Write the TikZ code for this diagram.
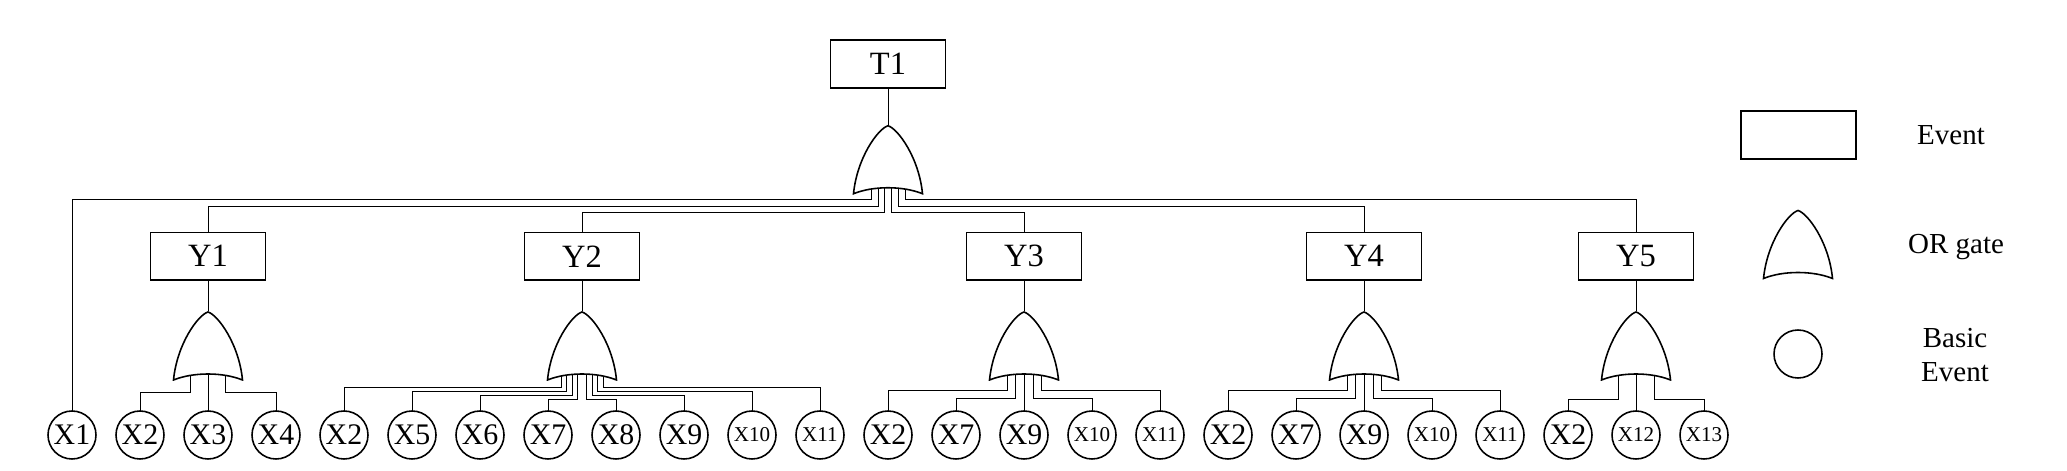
\documentclass[tikz,border=0pt]{standalone}
\usepackage{fontspec}
\setmainfont{Liberation Serif}
\usetikzlibrary{positioning,backgrounds,calc}

\begin{document}
\begin{tikzpicture}[line width=0.9pt, node distance = 0.4cm,
	block/.style = { rectangle, draw=black, fill=white,
	minimum width=2.3cm, minimum height=0.95cm, inner sep=0pt, outer sep=0pt,
	font=\fontsize{18.5}{22}\selectfont },
	basic/.style = { circle, draw=black, fill=white, minimum size=0.96cm,
	inner sep=0pt, outer sep=0pt, font=\fontsize{17}{20}\selectfont },
	twodigit/.style = { font=\fontsize{12}{14}\selectfont },
	gate/.style = { minimum width=1.42cm, minimum height=1.40cm, inner sep=0pt,
	outer sep=0pt,
	path picture={ \filldraw[fill=white, shift={(path picture bounding box.center)}]
	  (-0.69,-0.68) .. controls (-0.62,0.04) and (-0.2,0.62) .. (0,0.68)
	  .. controls (0.2,0.62) and (0.62,0.04) .. (0.69,-0.68)
	  .. controls (0.3,-0.52) and (-0.3,-0.52) .. cycle; } },
	legend/.style = { align=center, font=\fontsize{16.5}{19.5}\selectfont } ]

  \useasboundingbox (0,0) rectangle (41.34,-9.42);

  % basic events
  \node [name=x1, basic] at (1.44,-8.70) {X1};
  \node [name=y1x2, basic, right=of x1] {X2};
  \node [name=y1x3, basic, right=of y1x2] {X3};
  \node [name=y1x4, basic, right=of y1x3] {X4};
  \node [name=y2x2, basic, right=of y1x4] {X2};
  \node [name=y2x5, basic, right=of y2x2] {X5};
  \node [name=y2x6, basic, right=of y2x5] {X6};
  \node [name=y2x7, basic, right=of y2x6] {X7};
  \node [name=y2x8, basic, right=of y2x7] {X8};
  \node [name=y2x9, basic, right=of y2x8] {X9};
  \node [name=y2x10, basic, twodigit, right=of y2x9] {X10};
  \node [name=y2x11, basic, twodigit, right=of y2x10] {X11};
  \node [name=y3x2, basic, right=of y2x11] {X2};
  \node [name=y3x7, basic, right=of y3x2] {X7};
  \node [name=y3x9, basic, right=of y3x7] {X9};
  \node [name=y3x10, basic, twodigit, right=of y3x9] {X10};
  \node [name=y3x11, basic, twodigit, right=of y3x10] {X11};
  \node [name=y4x2, basic, right=of y3x11] {X2};
  \node [name=y4x7, basic, right=of y4x2] {X7};
  \node [name=y4x9, basic, right=of y4x7] {X9};
  \node [name=y4x10, basic, twodigit, right=of y4x9] {X10};
  \node [name=y4x11, basic, twodigit, right=of y4x10] {X11};
  \node [name=y5x2, basic, right=of y4x11] {X2};
  \node [name=y5x12, basic, twodigit, right=of y5x2] {X12};
  \node [name=y5x13, basic, twodigit, right=of y5x12] {X13};

  % intermediate events and their gates
  \coordinate (y2top) at ($(y2x7.north)!0.5!(y2x8.north)$);
  \node [name=y1, block, above=2.62cm of y1x3] {Y1};
  \node [name=y2, block, above=2.62cm of y2top] {Y2};
  \node [name=y3, block, above=2.62cm of y3x9] {Y3};
  \node [name=y4, block, above=2.62cm of y4x9] {Y4};
  \node [name=y5, block, above=2.62cm of y5x12] {Y5};
  \node [name=g1, gate, below=0.62cm of y1] {};
  \node [name=g2, gate, below=0.62cm of y2] {};
  \node [name=g3, gate, below=0.62cm of y3] {};
  \node [name=g4, gate, below=0.62cm of y4] {};
  \node [name=g5, gate, below=0.62cm of y5] {};

  % top event
  \node [name=t1, block] at (17.76,-1.28) {T1};
  \node [name=g0, gate, below=0.74cm of t1] {};

  % legend
  \node [name=lbox, block] at (35.97,-2.70) {};
  \node [name=lgate, gate] at (35.96,-4.89) {};
  \node [name=lcircle, basic] at (35.96,-7.08) {};
  \node [name=levent, legend] at (39.02,-2.70) {Event};
  \node [name=lor, legend] at (39.12,-4.94) {OR gate};
  \node [name=lbasic, legend] at (39.10,-7.10) {Basic\\Event};

  \begin{scope}[on background layer]
  \draw (t1.south) -- (g0.north);
  \draw ([xshift=-3.4mm, yshift=2mm]g0.south) -- ++(0,-3mm) -| (x1.north);
  \draw ([xshift=-2mm, yshift=2mm]g0.south) -- ++(0,-4.4mm) -| (y1.north);
  \draw ([xshift=-0.7mm, yshift=2mm]g0.south) -- ++(0,-5.6mm) -| (y2.north);
  \draw ([xshift=0.7mm, yshift=2mm]g0.south) -- ++(0,-5.6mm) -| (y3.north);
  \draw ([xshift=2mm, yshift=2mm]g0.south) -- ++(0,-4.4mm) -| (y4.north);
  \draw ([xshift=3.5mm, yshift=2mm]g0.south) -- ++(0,-3mm) -| (y5.north);

  \draw (y1.south) -- (g1.north);
  \draw ([xshift=-3.5mm, yshift=2mm]g1.south) -- ++(0,-4.2mm) -| (y1x2.north);
  \draw (g1.center) -- (y1x3.north);
  \draw ([xshift=3.5mm, yshift=2mm]g1.south) -- ++(0,-4.2mm) -| (y1x4.north);

  \draw (y2.south) -- (g2.north);
  \draw ([xshift=-4.2mm, yshift=2mm]g2.south) -- ++(0,-3.2mm) -| (y2x2.north);
  \draw ([xshift=-3.1mm, yshift=2mm]g2.south) -- ++(0,-4mm) -| (y2x5.north);
  \draw ([xshift=-2mm, yshift=2mm]g2.south) -- ++(0,-4.8mm) -| (y2x6.north);
  \draw ([xshift=-0.9mm, yshift=2mm]g2.south) -- ++(0,-5.6mm) -| (y2x7.north);
  \draw ([xshift=0.9mm, yshift=2mm]g2.south) -- ++(0,-5.6mm) -| (y2x8.north);
  \draw ([xshift=2mm, yshift=2mm]g2.south) -- ++(0,-4.8mm) -| (y2x9.north);
  \draw ([xshift=3.1mm, yshift=2mm]g2.south) -- ++(0,-4mm) -| (y2x10.north);
  \draw ([xshift=4.2mm, yshift=2mm]g2.south) -- ++(0,-3.2mm) -| (y2x11.north);

  \draw (y3.south) -- (g3.north);
  \draw ([xshift=-3.4mm, yshift=2mm]g3.south) -- ++(0,-3.8mm) -| (y3x2.north);
  \draw ([xshift=-1.8mm, yshift=2mm]g3.south) -- ++(0,-5.4mm) -| (y3x7.north);
  \draw (g3.center) -- (y3x9.north);
  \draw ([xshift=1.8mm, yshift=2mm]g3.south) -- ++(0,-5.4mm) -| (y3x10.north);
  \draw ([xshift=3.4mm, yshift=2mm]g3.south) -- ++(0,-3.8mm) -| (y3x11.north);

  \draw (y4.south) -- (g4.north);
  \draw ([xshift=-3.4mm, yshift=2mm]g4.south) -- ++(0,-3.8mm) -| (y4x2.north);
  \draw ([xshift=-1.8mm, yshift=2mm]g4.south) -- ++(0,-5.4mm) -| (y4x7.north);
  \draw (g4.center) -- (y4x9.north);
  \draw ([xshift=1.8mm, yshift=2mm]g4.south) -- ++(0,-5.4mm) -| (y4x10.north);
  \draw ([xshift=3.4mm, yshift=2mm]g4.south) -- ++(0,-3.8mm) -| (y4x11.north);

  \draw (y5.south) -- (g5.north);
  \draw ([xshift=-3.6mm, yshift=2mm]g5.south) -- ++(0,-5.6mm) -| (y5x2.north);
  \draw (g5.center) -- (y5x12.north);
  \draw ([xshift=3.6mm, yshift=2mm]g5.south) -- ++(0,-5.6mm) -| (y5x13.north);
  \end{scope}
\end{tikzpicture}
\end{document}
